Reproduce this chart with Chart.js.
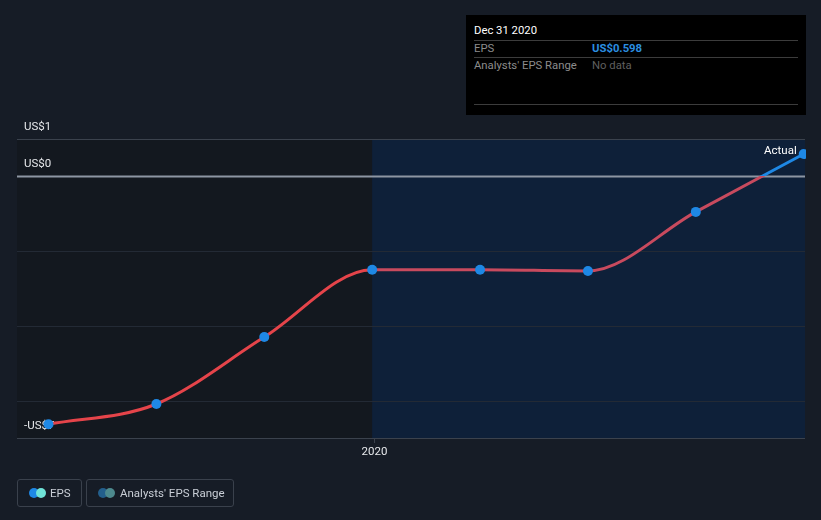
<!DOCTYPE html>
<html>
<head>
<meta charset="utf-8">
<script src="https://cdn.jsdelivr.net/npm/chart.js@4"></script>
<style>
    body { margin: 0; background: #161c26; font-family: Roboto, "Open Sans", sans-serif; }
    #wrap { position: relative; width: 821px; height: 520px; }
    #eps { position: absolute; left: 0; top: 0; }
    .tip { position: absolute; left: 466px; top: 15px; width: 340px; height: 100px; background: #000; color: #8c8c8c; font-size: 11.3px; }
    .tip .row { position: absolute; left: 8px; width: 324px; border-bottom: 1px solid #3c3c3c; white-space: nowrap; }
    .tip .v { position: absolute; left: 118px; }
    .legend { position: absolute; top: 479px; height: 26px; border: 1px solid #3a414c; border-radius: 3px; color: #c9ced6; font-size: 11.5px; line-height: 26px; white-space: nowrap; }
    .dot { position: absolute; top: 8px; width: 10px; height: 10px; border-radius: 50%; }
</style>
</head>
<body>
<div id="wrap">
    <canvas id="eps" width="821" height="520"></canvas>
    <div class="tip">
        <div class="row" style="top:6px;height:19px;line-height:19px;color:#fff;">Dec 31 2020</div>
        <div class="row" style="top:26px;height:16px;line-height:16px;">EPS<span class="v" style="color:#2b8fe0;font-weight:bold;">US$0.598</span></div>
        <div class="row" style="top:43px;height:16px;line-height:16px;border-bottom:none;">Analysts' EPS Range<span class="v" style="color:#5f5f5f;">No data</span></div>
        <div class="row" style="top:89px;height:0;"></div>
    </div>
    <div class="legend" style="left:17px;width:63px;">
        <div class="dot" style="left:11px;background:#1e88e5;"></div>
        <div class="dot" style="left:18px;background:#6fe3d8;"></div>
        <span style="position:absolute;left:32px;">EPS</span>
    </div>
    <div class="legend" style="left:86px;width:146px;">
        <div class="dot" style="left:11px;background:#235f8c;"></div>
        <div class="dot" style="left:18px;background:#4d8a8e;"></div>
        <span style="position:absolute;left:33px;">Analysts' EPS Range</span>
    </div>
</div>
<script>
// quarterly trailing EPS, x as decimal year
const fechas = [2019.25, 2019.5, 2019.75, 2020.0, 2020.25, 2020.5, 2020.75, 2021.0];
const eps = [-6.63, -6.09, -4.3, -2.5, -2.5, -2.53, -0.95, 0.598];
const gridValores = [1, 0, -2, -4, -6, -7];
const etiquetasY = [[1, "US$1"], [0, "US$0"], [-7, "-US$7"]];
const tickX = [[2020.004, "2020"]];
const corte = 2020.0;

const rojo = "#e5444a";
const rojoFuturo = "#c84a5e";
const azul = "#1e88e5";

const fondoPlugin = {
    id: "fondo",
    beforeDatasetsDraw(chart) {
        const { ctx, chartArea, scales } = chart;
        const xCorte = scales.x.getPixelForValue(corte);
        ctx.save();
        ctx.fillStyle = "#13181f";
        ctx.fillRect(chartArea.left, chartArea.top, xCorte - chartArea.left, chartArea.bottom - chartArea.top);
        ctx.fillStyle = "#0e2039";
        ctx.fillRect(xCorte, chartArea.top, chartArea.right - xCorte, chartArea.bottom - chartArea.top);
        gridValores.forEach(function(v) {
            const y = Math.round(scales.y.getPixelForValue(v)) + 0.5;
            if (v == 0) {
                ctx.strokeStyle = "#8d96a3";
                ctx.lineWidth = 2;
            } else if (v == 1 || v == -7) {
                ctx.strokeStyle = "#3b424d";
                ctx.lineWidth = 1;
            } else {
                ctx.strokeStyle = "#232a35";
                ctx.lineWidth = 1;
            }
            ctx.beginPath();
            ctx.moveTo(chartArea.left, y);
            ctx.lineTo(chartArea.right, y);
            ctx.stroke();
        });
        ctx.font = "11.5px Roboto, sans-serif";
        ctx.fillStyle = "#e6e8eb";
        ctx.textBaseline = "middle";
        ctx.textAlign = "left";
        etiquetasY.forEach(function(e) {
            ctx.fillText(e[1], chartArea.left + 7, scales.y.getPixelForValue(e[0]) - 12);
        });
        ctx.textAlign = "center";
        tickX.forEach(function(t) {
            const x = Math.round(scales.x.getPixelForValue(t[0])) + 0.5;
            ctx.strokeStyle = "#3b424d";
            ctx.lineWidth = 1;
            ctx.beginPath();
            ctx.moveTo(x, chartArea.bottom);
            ctx.lineTo(x, chartArea.bottom + 5);
            ctx.stroke();
            ctx.fillText(t[1], x, chartArea.bottom + 14);
        });
        ctx.restore();
    },
    afterDatasetsDraw(chart) {
        const { ctx, scales } = chart;
        const n = fechas.length - 1;
        ctx.save();
        ctx.font = "11.5px Roboto, sans-serif";
        ctx.fillStyle = "#ffffff";
        ctx.textAlign = "right";
        ctx.textBaseline = "middle";
        ctx.fillText("Actual", scales.x.getPixelForValue(fechas[n]) - 7, scales.y.getPixelForValue(eps[n]) - 3);
        ctx.restore();
    }
};

function colorSegmento(c) {
    const y0 = myChart ? myChart.scales.y.getPixelForValue(0) : 0;
    if (c.p0.parsed.y < 0 && c.p1.parsed.y > 0 && myChart) {
        const g = myChart.ctx.createLinearGradient(0, c.p0.y, 0, c.p1.y);
        const f = (c.p0.y - y0) / (c.p0.y - c.p1.y);
        g.addColorStop(0, rojoFuturo);
        g.addColorStop(f, rojoFuturo);
        g.addColorStop(f, azul);
        g.addColorStop(1, azul);
        return g;
    }
    if (c.p0.parsed.y >= 0) return azul;
    return c.p0.parsed.x >= corte ? rojoFuturo : rojo;
}

let myChart;
const datos = fechas.map(function(f, i) { return { x: f, y: eps[i] }; });
myChart = new Chart(document.getElementById("eps"), {
    type: "line",
    data: {
        datasets: [{
            label: "EPS",
            data: datos,
            borderColor: rojo,
            borderWidth: 3,
            cubicInterpolationMode: "monotone",
            pointRadius: 5,
            pointBackgroundColor: azul,
            pointBorderWidth: 0,
            clip: { left: 10, top: 10, right: 1, bottom: 10 },
            segment: { borderColor: colorSegmento }
        }]
    },
    options: {
        responsive: false,
        animation: false,
        layout: { padding: { left: 17, right: 16, top: 139, bottom: 82 } },
        scales: {
            x: { type: "linear", display: false, min: 2019.177, max: 2021.003 },
            y: { display: false, min: -7, max: 1 }
        },
        plugins: { legend: { display: false }, tooltip: { enabled: false } }
    },
    plugins: [fondoPlugin]
});
myChart.update();
</script>
</body>
</html>
